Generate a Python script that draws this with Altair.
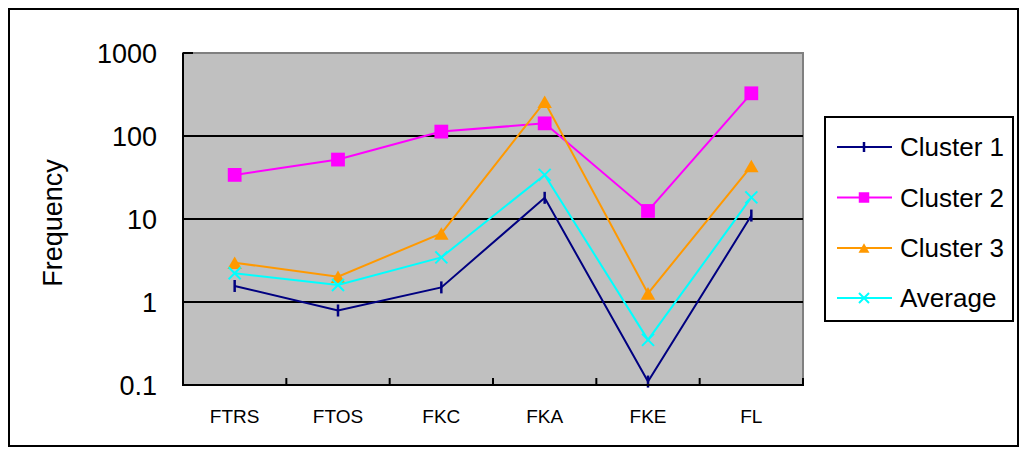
import altair as alt
import pandas as pd

categories = ["FTRS", "FTOS", "FKC", "FKA", "FKE", "FL"]
series_names = ["Cluster 1", "Cluster 2", "Cluster 3", "Average"]
cluster1 = [1.56, 0.79, 1.5, 18, 0.11, 11]
cluster2 = [34, 52, 113, 142, 12.5, 327]
cluster3 = [2.97, 2.02, 6.7, 259, 1.27, 43.5]
average = [2.22, 1.6, 3.45, 34, 0.35, 18.2]
y_ticks = [0.1, 1, 10, 100, 1000]
grid_values = [1, 10, 100]
y_title = "Frequency"

series_values = {
    "Cluster 1": cluster1,
    "Cluster 2": cluster2,
    "Cluster 3": cluster3,
    "Average": average,
}
colors = {
    "Cluster 1": "#000080",
    "Cluster 2": "#FF00FF",
    "Cluster 3": "#FF9900",
    "Average": "#00FFFF",
}
# shape, filled, size in plot, size in legend, stroke width
styles = {
    "Cluster 1": ("M0,-1L0,1", False, 144, 100, 2.5),
    "Cluster 2": ("square", True, 190, 110, 1),
    "Cluster 3": ("triangle-up", True, 210, 120, 1),
    "Average": ("M-1,-1L1,1M-1,1L1,-1", False, 144, 100, 2),
}

rows = []
for s in series_names:
    for c, v in zip(categories, series_values[s]):
        rows.append({"series": s, "category": c, "value": v})
df = pd.DataFrame(rows)
cat_df = pd.DataFrame({"category": categories})
tick_df = pd.DataFrame({"v": y_ticks})
grid_df = pd.DataFrame({"v": grid_values})
one = pd.DataFrame({"label": [y_title]})

W, H = 620, 332
FONT = "Liberation Sans"

x_scale = alt.Scale(type="band", domain=categories, paddingInner=0, paddingOuter=0)
y_scale = alt.Scale(type="log", domain=[0.1, 1000], nice=False)


def xc(band=0.5):
    return alt.X("category:N", sort=categories, scale=x_scale, bandPosition=band, axis=None)


def yv(field="value"):
    return alt.Y(f"{field}:Q", scale=y_scale, axis=None)


layers = []

# outer chart border
layers.append(
    alt.Chart(one).mark_rect(fill="transparent", stroke="black", strokeWidth=2).encode(
        x=alt.value(-174), x2=alt.value(835), y=alt.value(-44), y2=alt.value(393)
    )
)

# horizontal gridlines
layers.append(
    alt.Chart(grid_df).mark_rule(color="black", strokeWidth=2).encode(
        y=yv("v"), x=alt.value(0), x2=alt.value(W)
    )
)
# y tick labels
layers.append(
    alt.Chart(tick_df).mark_text(font=FONT, fontSize=27, color="black", align="right",
                                 baseline="middle", dy=2).encode(
        y=yv("v"), x=alt.value(-26), text=alt.Text("v:Q", format="~g")
    )
)
# y title
layers.append(
    alt.Chart(one).mark_text(font=FONT, fontSize=27, color="black", align="center",
                             baseline="alphabetic", angle=270).encode(
        x=alt.value(-121), y=alt.value(170), text="label:N"
    )
)
# x labels
layers.append(
    alt.Chart(cat_df).mark_text(font=FONT, fontSize=19, color="black", align="center",
                                baseline="alphabetic").encode(
        x=xc(0.5), y=alt.value(H + 38), text="category:N"
    )
)

for s in series_names:
    sub = df[df.series == s]
    shape, filled, size, lsize, sw = styles[s]
    col = colors[s]
    layers.append(alt.Chart(sub).mark_line(color=col, strokeWidth=2).encode(x=xc(), y=yv()))
    if filled:
        pm = alt.Chart(sub).mark_point(shape=shape, filled=True, fill=col, color=col,
                                       size=size, opacity=1, strokeWidth=sw)
    else:
        pm = alt.Chart(sub).mark_point(shape=shape, filled=False, stroke=col, color=col,
                                       size=size, opacity=1, strokeWidth=sw)
    layers.append(pm.encode(x=xc(), y=yv()))

# axis lines (left and bottom)
layers.append(
    alt.Chart(one).mark_rule(color="black", strokeWidth=2).encode(
        x=alt.value(0), y=alt.value(0), y2=alt.value(H + 1)
    )
)
layers.append(
    alt.Chart(one).mark_rule(color="black", strokeWidth=2).encode(
        x=alt.value(-1), x2=alt.value(W + 1), y=alt.value(H)
    )
)
# x-axis inward tick marks at category boundaries
layers.append(
    alt.Chart(cat_df).mark_rule(color="black", strokeWidth=2).encode(
        x=xc(1), y=alt.value(H - 7), y2=alt.value(H)
    )
)
# y-axis inward tick at the top
layers.append(
    alt.Chart(one).mark_rule(color="black", strokeWidth=2).encode(
        x=alt.value(0), x2=alt.value(10), y=alt.value(0)
    )
)

# legend box
layers.append(
    alt.Chart(one).mark_rect(fill="white", stroke="black", strokeWidth=2).encode(
        x=alt.value(642), x2=alt.value(830), y=alt.value(64), y2=alt.value(268)
    )
)
legend_y = [94, 144.5, 195, 245]
for s, ly in zip(series_names, legend_y):
    shape, filled, size, lsize, sw = styles[s]
    col = colors[s]
    ldf = pd.DataFrame({"series": [s]})
    layers.append(alt.Chart(ldf).mark_rule(color=col, strokeWidth=2).encode(
        x=alt.value(654), x2=alt.value(709), y=alt.value(ly)))
    if filled:
        pm = alt.Chart(ldf).mark_point(shape=shape, filled=True, fill=col, color=col,
                                       size=lsize, opacity=1, strokeWidth=sw)
    else:
        pm = alt.Chart(ldf).mark_point(shape=shape, filled=False, stroke=col, color=col,
                                       size=lsize, opacity=1, strokeWidth=sw)
    layers.append(pm.encode(x=alt.value(681), y=alt.value(ly)))
    layers.append(alt.Chart(ldf).mark_text(
        font=FONT, fontSize=26, color="black", align="left", baseline="middle"
    ).encode(x=alt.value(717), y=alt.value(ly + 1), text="series:N"))

chart = alt.layer(*layers).properties(
    width=W, height=H,
    autosize=alt.AutoSizeParams(type="none"),
    padding={"left": 175, "top": 45, "right": 216, "bottom": 63},
    background="white",
).configure_view(
    fill="#C0C0C0", stroke="#808080", strokeWidth=2
)

chart.save("out.html", embed_options={"renderer": "svg", "actions": False})
